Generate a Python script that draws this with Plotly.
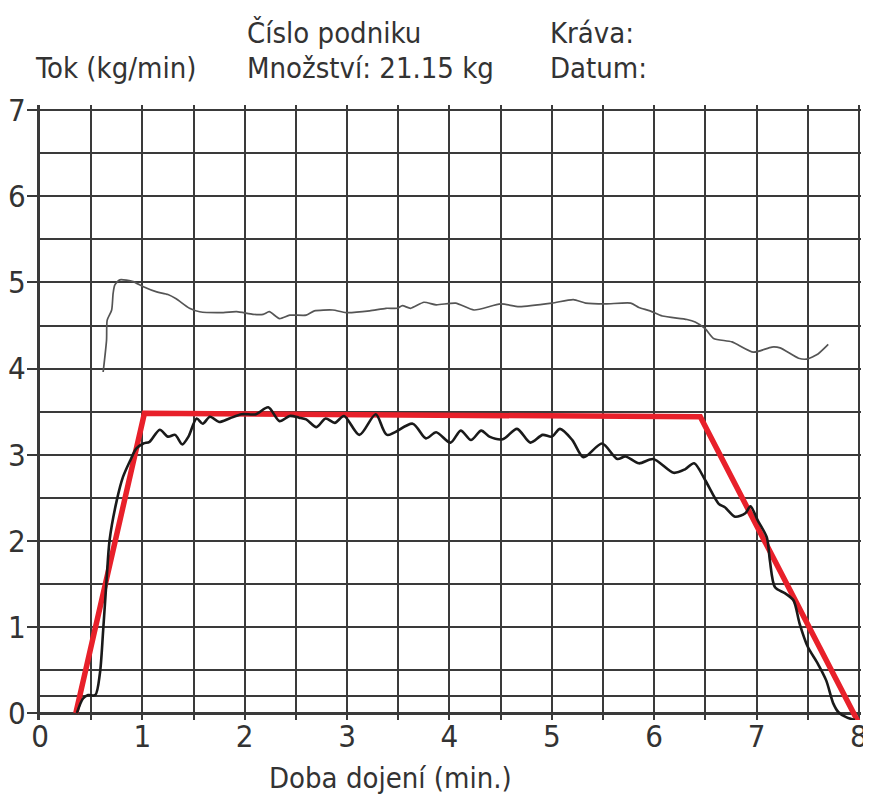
import plotly.graph_objects as go

# ---- data ----
flow_x = [0.36, 0.42, 0.47, 0.54, 0.585, 0.617, 0.65, 0.68, 0.75, 0.81, 0.88, 0.94, 1.01, 1.07, 1.17,
          1.25, 1.32, 1.39, 1.45, 1.53, 1.59, 1.66, 1.75, 1.85, 1.97, 2.11, 2.23, 2.34, 2.44, 2.53,
          2.60, 2.70, 2.79, 2.88, 2.97, 3.12, 3.28, 3.39, 3.64, 3.77, 3.87, 4.01, 4.11, 4.21, 4.31,
          4.39, 4.52, 4.66, 4.79, 4.91, 5.00, 5.08, 5.20, 5.31, 5.49, 5.64, 5.72, 5.85, 5.99, 6.19,
          6.30, 6.39, 6.50, 6.63, 6.69, 6.79, 6.89, 6.94, 7.01, 7.10, 7.13, 7.18, 7.28, 7.36, 7.42,
          7.50, 7.60, 7.68, 7.75, 7.80, 7.88, 7.96]
flow_y = [0.00, 0.17, 0.21, 0.21, 0.46, 0.96, 1.54, 2.01, 2.47, 2.74, 2.93, 3.07, 3.13, 3.15, 3.29,
          3.21, 3.23, 3.12, 3.21, 3.42, 3.36, 3.44, 3.38, 3.42, 3.47, 3.47, 3.55, 3.39, 3.45, 3.43,
          3.41, 3.32, 3.42, 3.37, 3.45, 3.23, 3.47, 3.23, 3.36, 3.19, 3.26, 3.14, 3.28, 3.17, 3.28,
          3.21, 3.18, 3.30, 3.14, 3.23, 3.21, 3.30, 3.17, 2.97, 3.13, 2.95, 2.98, 2.90, 2.95, 2.79,
          2.83, 2.90, 2.70, 2.43, 2.39, 2.28, 2.32, 2.40, 2.24, 2.04, 1.77, 1.46, 1.39, 1.31, 1.04,
          0.77, 0.57, 0.38, 0.11, 0.01, -0.05, -0.08]

thin_x = [0.617, 0.65, 0.656, 0.70, 0.714, 0.73, 0.78, 0.91, 1.01, 1.14, 1.25, 1.33, 1.46, 1.56, 1.79,
          1.92, 2.08, 2.18, 2.24, 2.34, 2.44, 2.60, 2.68, 2.86, 2.99, 3.22, 3.38, 3.49, 3.54, 3.62,
          3.75, 3.87, 4.06, 4.24, 4.50, 4.68, 5.00, 5.21, 5.33, 5.52, 5.77, 5.85, 5.96, 6.08, 6.32,
          6.40, 6.50, 6.58, 6.76, 6.97, 7.15, 7.23, 7.41, 7.49, 7.60, 7.70]
thin_y = [3.96, 4.33, 4.56, 4.68, 4.87, 4.97, 5.03, 5.01, 4.95, 4.89, 4.86, 4.81, 4.70, 4.66, 4.65,
          4.66, 4.63, 4.63, 4.66, 4.58, 4.62, 4.62, 4.67, 4.68, 4.65, 4.67, 4.70, 4.70, 4.73, 4.70,
          4.77, 4.74, 4.76, 4.68, 4.75, 4.72, 4.76, 4.80, 4.76, 4.75, 4.76, 4.71, 4.67, 4.61, 4.57,
          4.54, 4.46, 4.35, 4.31, 4.19, 4.25, 4.24, 4.12, 4.11, 4.17, 4.28]

ideal_x = [0.35, 1.02, 6.45, 8.0]
ideal_y = [0.0, 3.48, 3.44, -0.12]

x_major = [0, 1, 2, 3, 4, 5, 6, 7, 8]
x_minor = [0.5, 1.5, 2.5, 3.5, 4.5, 5.5, 6.5, 7.5]
y_major = [0, 1, 2, 3, 4, 5, 6, 7]
y_minor = [0.2, 0.5, 1.5, 2.5, 3.5, 4.5, 5.5, 6.5]

header_left = ["Tok (kg/min)"]
header_mid = ["Číslo podniku", "Množství: 21.15 kg"]
header_right = ["Kráva:", "Datum:"]
x_title = "Doba dojení (min.)"

FONT = "DejaVu Sans Condensed, Roboto, sans-serif"
TXT = "#333333"
GRID = "#3a3a3a"

fig = go.Figure()
fig.add_trace(go.Scatter(x=thin_x, y=thin_y, mode="lines", line=dict(color="#555555", width=1.7, shape="spline", smoothing=0.6), showlegend=False))
fig.add_trace(go.Scatter(x=ideal_x, y=ideal_y, mode="lines", line=dict(color="#e8202a", width=5.5), showlegend=False))
fig.add_trace(go.Scatter(x=flow_x, y=flow_y, mode="lines", line=dict(color="#1a1a1a", width=2.6, shape="spline", smoothing=0.8), showlegend=False))

OFF = 8  # page body margin
L, T, W, H = 32, 97, 821, 615

def px(xs):
    return (xs - OFF - L) / W

def py(ys):
    return (T + H - (ys - OFF)) / H

ann = []
ann.append(dict(text=header_left[0], x=px(33), y=py(68)))
ann.append(dict(text=header_mid[0], x=px(245), y=py(33)))
ann.append(dict(text=header_mid[1], x=px(245), y=py(68)))
ann.append(dict(text=header_right[0], x=px(548), y=py(33)))
ann.append(dict(text=header_right[1], x=px(548), y=py(68)))
for a in ann:
    a.update(xref="paper", yref="paper", xanchor="left", yanchor="middle", showarrow=False,
             font=dict(family=FONT, size=29, color=TXT))
ann.append(dict(text=x_title, x=px(390), y=py(778), xref="paper", yref="paper", xanchor="center",
                yanchor="middle", showarrow=False, font=dict(family=FONT, size=29, color=TXT)))

fig.update_layout(
    width=871, height=797,
    margin=dict(l=L, r=871 - L - W, t=T, b=797 - T - H),
    paper_bgcolor="white", plot_bgcolor="white",
    annotations=ann,
    xaxis=dict(range=[0, 8.02], tickvals=x_major, ticktext=[str(v) for v in x_major],
               automargin=False,
               showgrid=True, gridcolor=GRID, gridwidth=2, zeroline=False, showline=False,
               ticks="", ticklabelstandoff=-5,
               tickfont=dict(family=FONT, size=31, color=TXT),
               minor=dict(tickvals=x_minor, showgrid=True, gridcolor=GRID, gridwidth=2, ticks="")),
    yaxis=dict(range=[-0.08, 7.06], tickvals=y_major, ticktext=[str(v) for v in y_major],
               automargin=False,
               showgrid=True, gridcolor=GRID, gridwidth=2, zeroline=True, zerolinecolor=GRID, zerolinewidth=3,
               showline=True, linecolor=GRID, linewidth=3,
               ticks="outside", ticklen=10, tickwidth=2, tickcolor=GRID, ticklabelstandoff=-5,
               tickfont=dict(family=FONT, size=31, color=TXT),
               minor=dict(tickvals=y_minor, showgrid=True, gridcolor=GRID, gridwidth=2, ticks="")),
)

fig.write_html("out.html")
